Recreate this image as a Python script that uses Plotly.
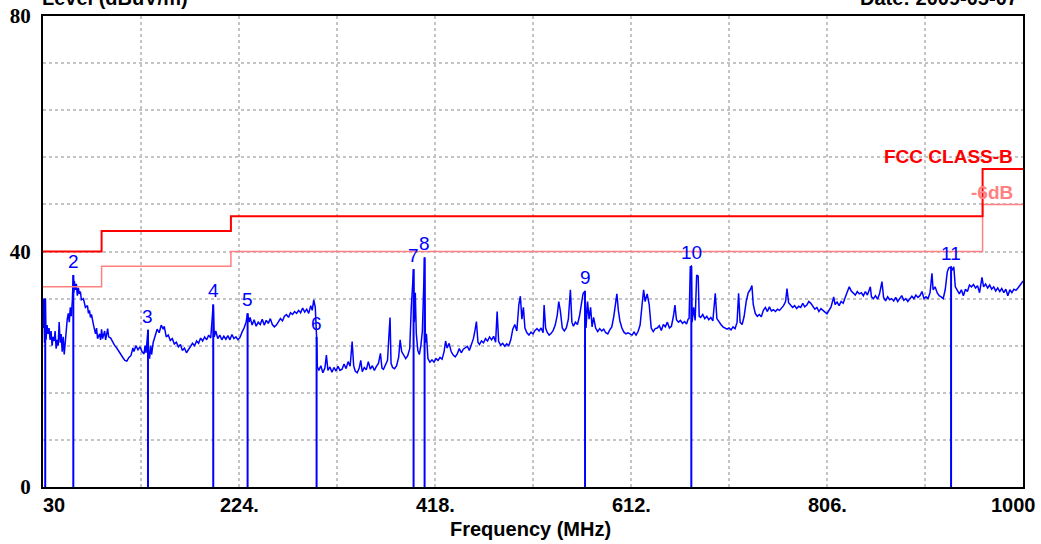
import plotly.graph_objects as go

# ---------------- data ----------------
spectrum_freq = [
    30.0, 30.8, 31.5, 32.2, 33.0, 34.0, 35.0, 36.0, 37.0, 38.0, 39.0, 40.0, 41.0, 42.0, 43.0, 44.0, 45.0,
    46.0, 47.0, 48.0, 49.0, 50.0, 51.0, 52.0, 53.0, 54.0, 55.0, 56.0, 57.0, 58.0, 59.0, 60.0, 60.5, 61.0,
    62, 63, 64, 65, 66, 67, 68, 70, 72, 74, 75, 76, 77, 78, 80, 82, 83, 84, 86, 87, 88, 89, 91, 92, 94, 95,
    97, 99, 101, 103, 105, 107, 109, 111, 113, 115, 117, 119, 120, 122, 124, 126, 128, 130, 131, 132,
    133.9, 134.5, 135.5, 136.5, 137.5,
    139, 141, 143, 145, 147, 149, 150, 152, 154, 156, 158, 160, 162, 164, 166, 168, 170, 172, 174, 176,
    178, 180, 182, 184, 186, 188, 190, 192, 194, 196, 197.5, 198.5, 199.5, 201, 203, 205, 207, 209, 211,
    213, 215, 217, 219, 221, 223, 225, 227, 229, 231, 232.5,
    234, 235, 237, 239, 241, 243, 245, 247, 249, 251, 253, 255, 257, 259, 261, 263, 265, 267, 269, 271,
    273, 275, 277, 279, 281, 283, 285, 287, 289, 291, 293, 295, 296.5, 298, 299.5, 300.8,
    301.5, 303, 305, 307, 309, 310.5, 312, 314, 316, 318, 320, 322, 324, 326, 328, 330, 332, 334, 336,
    337.5, 339, 341, 343, 344.5,
    346, 348, 350, 352, 354, 356, 358, 360, 362, 364, 365.5, 367, 369, 371, 372.5, 373.5, 374.5, 376,
    378, 380, 382, 383.5, 385, 387, 389, 391, 393, 394.5, 395.5, 396.8, 397.5, 398.5, 399.5, 401, 402.5,
    404, 405.5, 406.5, 407.7, 408.5, 409.5, 411, 413,
    415, 417, 419, 421, 423, 425, 427, 428.5, 430, 432, 434, 436, 438, 440, 442, 444, 446, 448, 450, 452,
    454, 456, 457.5, 459, 460.5,
    462, 464, 466, 468, 470, 472, 474, 476, 478, 479.5, 481, 483, 485, 487, 489, 491, 493, 495, 497, 499,
    501, 502.5, 504, 505.5, 507, 509, 511, 513, 515, 517, 519, 521, 523, 525, 526, 527.5, 529, 531, 533,
    535, 537, 539, 540.5, 542, 544, 546, 548, 550, 552, 553.5, 555, 557, 559, 561, 563, 564.5, 566.5,
    567.5, 569, 570.5, 572, 573.5, 575, 577, 579, 581, 583, 585, 587, 589, 591, 593, 595, 596.5, 598,
    599.5, 601,
    603, 605, 607, 609, 611, 613, 615, 617, 619, 621, 623, 624.5, 626, 628, 630, 632, 634, 636, 638, 640,
    642, 644, 646, 648, 650, 652, 654, 655.5, 657, 659, 661, 663, 665, 667, 668.5,
    669.5, 670.7, 671.7, 672.5, 674, 675.5, 677, 678.5, 679.5, 681, 683, 685, 687, 689, 691, 693, 695.4,
    697, 699, 701, 703, 705, 707, 709, 711, 713, 715, 717, 718.5, 720, 722, 724, 726, 728, 730, 731.7,
    733, 735, 737, 739, 741, 743, 745, 747, 749, 751, 753, 755, 757, 759, 761, 763, 765, 766.4, 768, 770,
    772, 774, 776, 778, 780, 782, 784, 786, 788, 790, 792, 794, 796, 798, 800, 802, 804, 806, 808, 810,
    812.6, 814, 816, 818, 820, 822, 824, 826, 828, 830, 832, 834, 836, 838, 840, 842, 844, 846, 848.9,
    850, 852, 854, 856, 858, 860.4, 862, 864, 866, 868, 870, 872, 874, 876, 878, 880, 882, 884, 886, 888,
    890, 892, 894, 896, 898, 900, 902, 904, 906, 908, 909.9, 911, 913, 915, 917, 919, 921, 923, 925,
    926.5, 928.8, 930, 931.5, 933, 935, 937, 939, 941, 943, 945, 947, 949, 951, 953, 955, 957, 959.4,
    961, 963, 965, 967, 969, 971, 973, 975, 977, 979, 981, 983, 985, 987, 989, 991, 993, 995, 997, 998.5,
    1000,
]
spectrum_level = [
    27.0, 32.0, 24.5, 32.0, 25.0, 27.5, 26.0, 27.0, 25.0, 26.5, 24.0, 25.5, 24.8, 26.5, 23.5, 25.0, 24.0,
    28.0, 24.5, 26.0, 23.0, 25.5, 22.5, 25.0, 26.5, 28.5, 29.5, 28.0, 30.5, 29.0, 31.5, 36.0, 33.0, 35.0,
    33.5, 34.5, 32.5, 33.8, 32.8, 33.2, 31.8, 32.0, 30.5, 30.8, 29.5, 30.0, 28.8, 29.3, 27.5, 26.0, 27.0,
    25.2, 26.0, 25.0, 26.8, 25.2, 26.5, 25.0, 26.9, 25.5,
    25.3, 24.6, 24.0, 23.6, 23.0, 22.5, 22.0, 21.5, 21.4, 22.0, 22.3, 23.6, 23.0, 24.0, 23.3, 23.8, 23.0,
    22.6, 24.0, 22.8,
    26.7, 23.0, 21.8, 24.0, 22.5,
    24.5, 25.5, 26.8, 26.2, 27.5, 26.8, 27.3, 25.5, 25.8, 24.9, 25.2, 24.3, 24.6, 23.8, 24.2, 23.2, 23.6,
    22.8, 23.3, 23.7, 24.4, 24.0, 24.8, 24.4, 25.3, 24.8, 25.5, 25.0, 25.8, 25.3, 29.0, 31.0, 25.5, 26.5,
    25.2, 25.8, 25.0, 25.6, 25.1, 25.7, 25.0, 25.9, 25.2, 25.5, 25.0, 25.4, 26.3, 27.0, 28.0, 29.5,
    28.0, 28.8, 27.5, 28.4, 27.3, 28.0, 27.6, 28.5, 27.5, 28.3, 27.8, 28.6, 27.6, 27.2, 27.5, 28.0, 28.6,
    28.2, 29.0, 29.3, 28.8, 29.6, 29.3, 29.8, 29.5, 30.0, 29.6, 30.4, 29.7, 30.2, 29.5, 30.8, 30.0, 31.8,
    30.5, 25.5,
    20.5, 19.8, 20.6, 19.4, 20.2, 22.4, 19.8, 20.4, 19.5, 20.3, 19.7, 20.5, 19.8, 20.0, 20.9, 20.1, 21.3,
    20.5, 24.7, 20.6, 19.7, 19.4, 20.2, 21.5,
    19.6, 20.3, 19.9, 21.3, 20.0, 20.6, 19.8, 20.5, 21.0, 22.7, 20.2, 20.0, 20.8, 21.5, 26.0, 28.8, 21.0,
    20.3, 20.1, 20.6, 22.0, 25.0, 23.0, 22.5, 21.8, 22.3, 23.5, 30.5, 34.0, 37.0, 28.0, 33.0, 26.0, 23.2,
    22.5, 24.0, 26.5, 34.3, 39.0, 24.5, 26.0, 21.8, 21.2,
    21.6, 21.2, 21.8, 21.5, 22.0, 21.7, 23.0, 24.8, 23.6, 24.4, 23.0, 22.4, 22.1, 22.6, 23.5, 22.8, 23.4,
    23.6, 23.9, 23.2, 24.2, 25.2, 26.5, 28.1, 24.6,
    24.2, 24.8, 24.5, 25.2, 24.8, 25.5, 25.0, 25.6, 24.6, 29.8, 24.7, 24.1, 24.4, 23.9, 24.3, 24.0, 25.0,
    26.8, 27.6, 26.5, 31.0, 32.4, 28.5, 30.5, 27.0, 26.2, 25.8, 26.3, 26.0, 26.6, 26.9, 26.5, 27.0, 26.2,
    30.9, 27.0, 26.3, 25.8, 26.1,
    26.6, 27.5, 29.2, 31.5, 30.0, 27.0, 26.5, 27.0, 28.5, 33.5, 28.0, 27.3, 28.0, 27.6, 29.0, 31.0, 32.8,
    33.3, 27.0, 31.5, 28.5, 30.5, 27.2, 28.8, 27.0, 26.4, 26.9, 26.5, 26.8, 26.2, 26.0, 26.7, 27.2, 29.0,
    30.8, 32.8, 30.0, 28.2,
    27.0, 26.3, 26.0, 26.2, 26.0, 25.8, 26.3, 25.8, 26.4, 27.5, 31.0, 33.5, 31.5, 32.8, 31.0, 27.0, 26.4,
    26.9, 27.0, 27.4, 26.6, 27.6, 27.2, 28.0, 27.0, 27.3, 29.0, 30.9, 28.4, 28.0, 28.3, 27.8, 28.1, 27.7,
    28.5,
    28.6, 37.4, 37.5, 28.0, 30.5, 28.3, 36.0, 35.8, 29.0, 28.8, 29.3, 28.6, 29.0, 28.4, 28.8, 28.2, 32.9,
    28.6, 28.0, 27.6, 27.2, 27.0, 26.8, 27.0, 26.7, 27.2, 26.9, 28.0, 32.9, 28.0, 27.6, 29.0, 31.5, 33.0,
    33.5, 34.2,
    31.0, 29.5, 29.0, 29.3, 28.9, 30.0, 30.5, 29.8, 30.6, 29.9, 30.1, 29.8, 30.2, 30.0, 30.4, 30.8, 31.5,
    33.7, 31.3, 30.9,
    30.5, 30.8, 30.3, 30.7, 30.5, 31.2, 30.6, 30.9, 31.5, 31.2, 30.6, 30.2, 30.5, 29.8, 30.3, 30.0, 29.6,
    29.4, 30.0, 30.6,
    32.3, 31.0, 31.4, 30.8, 31.5, 31.2, 32.2, 33.0, 34.0, 33.3, 33.0, 32.6, 33.2, 32.8, 33.0, 32.5, 33.2,
    32.6, 34.0,
    32.3, 32.0, 32.5, 31.9, 32.8, 34.9, 32.2, 31.6, 32.3, 31.8, 32.0, 31.6, 32.2, 31.5, 32.0, 32.5, 31.7,
    32.0, 31.5, 31.9,
    32.4, 32.0, 32.6, 32.2, 32.5, 33.2, 32.0, 32.3, 32.0, 33.0, 36.3, 33.5, 34.0, 33.0, 32.5, 32.3, 32.0,
    33.5, 36.5,
    37.2, 37.4, 36.8, 37.4, 34.0, 33.5, 32.8, 33.5, 32.5, 33.6, 33.2, 34.3, 34.0, 34.4, 33.8, 34.2, 33.0,
    35.6,
    34.0, 34.5, 33.8, 34.3, 33.6, 34.0, 33.3, 33.8, 33.2, 33.7, 33.0, 33.6, 32.5, 33.5, 33.0, 33.6, 33.4,
    33.8, 34.2, 34.6,
    35.0,
]

limit_freq = [30, 88, 88, 216, 216, 960, 960, 1000]
limit_level = [40, 40, 43.5, 43.5, 46, 46, 54, 54]
margin_level = [34, 34, 37.5, 37.5, 40, 40, 48, 48]

marker_freq = [32.2, 60.0, 133.9, 198.5, 232.5, 300.8, 396.8, 407.7, 566.5, 671.7, 928.8]
marker_level = [32.0, 36.0, 26.7, 31.0, 29.5, 25.5, 37.0, 39.0, 33.3, 37.5, 37.4]
marker_labels = ["", "2", "3", "4", "5", "6", "7", "8", "9", "10", "11"]

x_tick_vals = [30, 224, 418, 612, 806, 1000]
x_tick_text = ["30", "224.", "418.", "612.", "806.", "1000"]
y_tick_vals = [0, 8, 16, 24, 32, 40, 48, 56, 64, 72, 80]
y_tick_text = ["0", "", "", "", "", "40", "", "", "", "", "80"]

# ---------------- figure ----------------
fig = go.Figure()

# marker drop lines
mx, my = [], []
for f, l in zip(marker_freq, marker_level):
    mx += [f, f, None]
    my += [l, 0, None]
fig.add_trace(go.Scatter(x=mx, y=my, mode="lines",
                         line=dict(color="#0000ff", width=2), hoverinfo="skip"))

fig.add_trace(go.Scatter(x=spectrum_freq, y=spectrum_level, mode="lines",
                         line=dict(color="#0000ff", width=1.5)))
fig.add_trace(go.Scatter(x=limit_freq, y=margin_level, mode="lines",
                         line=dict(color="#ff8080", width=1.5)))
fig.add_trace(go.Scatter(x=limit_freq, y=limit_level, mode="lines",
                         line=dict(color="#ff0000", width=2)))

SANS = "Liberation Sans, Arial, sans-serif"
SERIF = "Liberation Serif, Times New Roman, serif"

annotations = []
for f, l, t in zip(marker_freq, marker_level, marker_labels):
    if t:
        annotations.append(dict(x=f, y=l, xref="x", yref="y", text=t, showarrow=False,
                                yanchor="bottom", xanchor="center", yshift=1,
                                font=dict(family=SANS, size=19, color="#0000ff")))

for v, t in zip(x_tick_vals, x_tick_text):
    shift = 0
    if v == x_tick_vals[0]:
        shift = 11
    elif v == x_tick_vals[-1]:
        shift = -10
    annotations.append(dict(x=v, y=-0.038, xref="x", yref="paper", text="<b>%s</b>" % t,
                            showarrow=False, xanchor="center", yanchor="middle", xshift=shift,
                            font=dict(family=SANS, size=20, color="#000000")))

annotations += [
    dict(x=0.5, y=-0.089, xref="paper", yref="paper", text="<b>Frequency (MHz)</b>",
         showarrow=False, xanchor="center", yanchor="middle", xshift=-3,
         font=dict(family=SANS, size=20, color="#000000")),
    dict(x=0, y=1.038, xref="paper", yref="paper", text="<b>Level (dBuV/m)</b>",
         showarrow=False, xanchor="left", yanchor="middle", xshift=-3,
         font=dict(family=SANS, size=20, color="#000000")),
    dict(x=1, y=1.038, xref="paper", yref="paper", text="<b>Date: 2009-05-07</b>",
         showarrow=False, xanchor="right", yanchor="middle", xshift=-3,
         font=dict(family=SANS, size=20, color="#000000")),
    dict(x=1, y=56.2, xref="paper", yref="y", text="<b>FCC CLASS-B</b>",
         showarrow=False, xanchor="right", yanchor="middle", xshift=-8,
         font=dict(family=SANS, size=19, color="#ff0000")),
    dict(x=1, y=50.1, xref="paper", yref="y", text="<b>-6dB</b>",
         showarrow=False, xanchor="right", yanchor="middle", xshift=-8,
         font=dict(family=SANS, size=19, color="#ff8080")),
]

fig.update_layout(
    width=1041, height=544, autosize=False,
    margin=dict(l=43, r=18, t=16, b=57, pad=0, autoexpand=False),
    paper_bgcolor="white", plot_bgcolor="white",
    showlegend=False,
    annotations=annotations,
    xaxis=dict(range=[30, 1000], tick0=30, dtick=97, showticklabels=False, ticks="",
               automargin=False,
               showgrid=True, gridcolor="#c4c4c4", griddash="dot", gridwidth=1.5,
               zeroline=False, showline=True, mirror=True, linecolor="black", linewidth=2),
    yaxis=dict(range=[0, 80], tickmode="array", tickvals=y_tick_vals, ticktext=y_tick_text,
               ticks="", ticklabelstandoff=6, automargin=False,
               tickfont=dict(family=SERIF, size=21, color="black", weight="bold"),
               showgrid=True, gridcolor="#c4c4c4", griddash="dot", gridwidth=1.5,
               zeroline=False, showline=True, mirror=True, linecolor="black", linewidth=2),
)

fig.write_html("out.html", config={"displayModeBar": False},
               post_script="document.body.style.margin='0';")
